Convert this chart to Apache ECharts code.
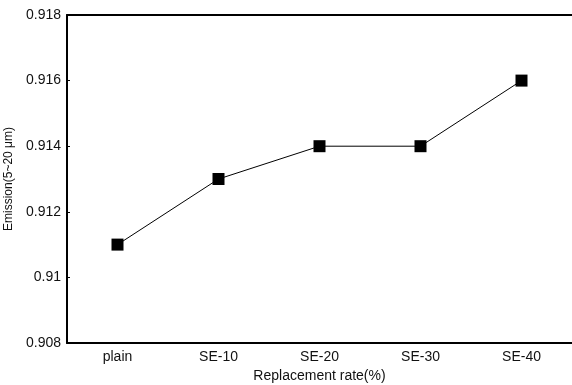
<!DOCTYPE html>
<html>
<head>
<meta charset="utf-8">
<script src="https://cdn.jsdelivr.net/npm/echarts@6/dist/echarts.min.js"></script>
<style>
  html, body { margin: 0; padding: 0; background: #fff; }
  #chart { width: 572px; height: 385px; }
</style>
</head>
<body>
<div id="chart"></div>
<script>
const categories = ['plain', 'SE-10', 'SE-20', 'SE-30', 'SE-40']
const emission = [0.911, 0.913, 0.914, 0.914, 0.916]
const yMin = 0.908
const yMax = 0.918
const yStep = 0.002

const mychart = echarts.init(document.getElementById('chart'))
const font = 'Liberation Sans, Arial, sans-serif'
const option = {
  animation: false,
  grid: { left: 67, right: 0, top: 15, bottom: 42, outerBoundsMode: 'none', containLabel: false },
  xAxis: [
    {
      type: 'category',
      data: categories,
      name: 'Replacement rate(%)',
      nameLocation: 'middle',
      nameGap: 23,
      nameTextStyle: { color: '#111', fontSize: 14, fontFamily: font },
      axisLine: { lineStyle: { color: '#000', width: 2 } },
      axisTick: { show: false },
      axisLabel: { color: '#111', fontSize: 14, fontFamily: font, margin: 7 }
    },
    {
      type: 'category',
      data: categories,
      position: 'top',
      axisLine: { lineStyle: { color: '#000', width: 2 } },
      axisTick: { show: false },
      axisLabel: { show: false }
    }
  ],
  yAxis: {
    type: 'value',
    min: yMin,
    max: yMax,
    interval: yStep,
    name: 'Emission(5~20 μm)',
    nameLocation: 'middle',
    nameGap: 47,
    nameTextStyle: { color: '#111', fontSize: 12, fontFamily: font },
    axisLine: { show: true, lineStyle: { color: '#000', width: 2 } },
    axisTick: { show: true, inside: true, length: 3, lineStyle: { color: '#000' } },
    splitLine: { show: false },
    axisLabel: { color: '#111', fontSize: 14, fontFamily: font, margin: 6 }
  },
  series: [
    {
      type: 'line',
      data: emission,
      symbol: 'rect',
      symbolSize: 12,
      itemStyle: { color: '#000' },
      lineStyle: { color: '#000', width: 1 }
    }
  ]
}
mychart.setOption(option)
</script>
</body>
</html>
